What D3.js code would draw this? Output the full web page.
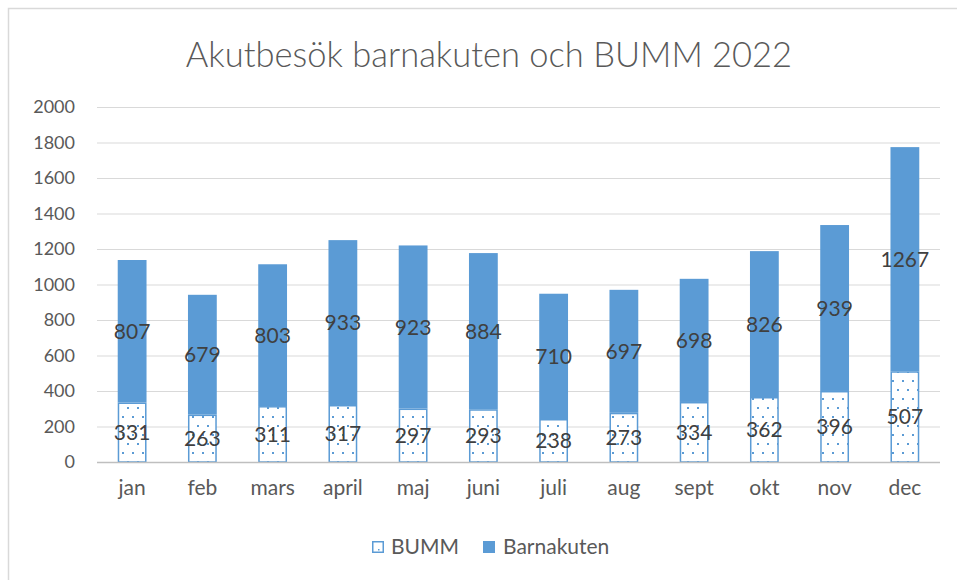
<!DOCTYPE html>
<html>
<head>
<meta charset="utf-8">
<script src="https://cdn.jsdelivr.net/npm/d3@7"></script>
<style>
body{margin:0;background:#fff;}
text{font-family:Lato,"Open Sans",sans-serif;}
</style>
</head>
<body>
<div id="chart"></div>
<script>
var months = ["jan","feb","mars","april","maj","juni","juli","aug","sept","okt","nov","dec"];
var bumm = [331,263,311,317,297,293,238,273,334,362,396,507];
var barnakuten = [807,679,803,933,923,884,710,697,698,826,939,1267];
var yTicks = [0,200,400,600,800,1000,1200,1400,1600,1800,2000];

var W = 957, H = 580;
var margin = {l:97,r:17,t:107,b:118};
var blue = "#5b9bd5", txt = "#595959", lab = "#404040";
var ff = "Lato,'Open Sans',sans-serif";

var svg = d3.select("#chart").append("svg")
	.attr("width",W).attr("height",H);

// dotted fill like excel's pattern
var defs = svg.append("defs");
var pat = defs.append("pattern").attr("id","dots")
	.attr("patternUnits","userSpaceOnUse")
	.attr("width",20).attr("height",18);
pat.append("rect").attr("width",20).attr("height",18).attr("fill","#fff");
[[2,2],[12,2],[7,11],[17,11]].forEach(function(p){
	pat.append("rect").attr("x",p[0]).attr("y",p[1]).attr("width",2).attr("height",2).attr("fill",blue);
});

// chart frame (only left/top visible)
svg.append("path").attr("d","M8.5,"+H+"V8.5H"+W)
	.attr("fill","none").attr("stroke","#d9d9d9").attr("stroke-width",1.5);

svg.append("text").attr("x",489).attr("y",67)
	.attr("text-anchor","middle").attr("font-size",34.5).attr("font-weight",300).attr("fill",txt)
	.text("Akutbesök barnakuten och BUMM 2022");

var X = d3.scaleBand().domain(months).range([margin.l, W-margin.r]).paddingInner(0.59).paddingOuter(0.295);
var Y = d3.scaleLinear().domain([0,2000]).range([H-margin.b, margin.t]);

svg.append("g").selectAll("line").data(yTicks.slice(1)).enter().append("line")
	.attr("x1",margin.l).attr("x2",W-margin.r)
	.attr("y1",function(d){return Y(d)+0.5}).attr("y2",function(d){return Y(d)+0.5})
	.attr("stroke","#d9d9d9").attr("stroke-width",1);

var yAxis = svg.append("g").attr("transform","translate("+margin.l+",0)")
	.call(d3.axisLeft(Y).tickValues(yTicks).tickFormat(d3.format("d")).tickSize(0).tickPadding(22));
yAxis.select(".domain").remove();
yAxis.selectAll("text").attr("font-size",18).attr("fill",txt).attr("font-family",ff);

var data = months.map(function(m,i){return {m:m,b:bumm[i],k:barnakuten[i]}});

var g = svg.append("g");
g.selectAll(".bumm").data(data).enter().append("rect")
	.attr("class","bumm")
	.attr("x",function(d){return X(d.m)+0.75}).attr("width",X.bandwidth()-1.5)
	.attr("y",function(d){return Y(d.b)}).attr("height",function(d){return Y(0)-Y(d.b)})
	.attr("fill","url(#dots)").attr("stroke",blue).attr("stroke-width",1.5);

g.selectAll(".barn").data(data).enter().append("rect")
	.attr("class","barn")
	.attr("x",function(d){return X(d.m)}).attr("width",X.bandwidth())
	.attr("y",function(d){return Y(d.b+d.k)}).attr("height",function(d){return Y(d.b)-Y(d.b+d.k)-0.75})
	.attr("fill",blue);

// x axis line
svg.append("line").attr("x1",margin.l).attr("x2",W-margin.r)
	.attr("y1",Y(0)+0.5).attr("y2",Y(0)+0.5).attr("stroke","#bfbfbf").attr("stroke-width",1.5);

var xAxis = svg.append("g").attr("transform","translate(0,"+Y(0)+")")
	.call(d3.axisBottom(X).tickSize(0).tickPadding(18));
xAxis.select(".domain").remove();
xAxis.selectAll("text").attr("font-size",21).attr("fill",txt).attr("font-family",ff);

// data labels
g.selectAll(".lb").data(data).enter().append("text")
	.attr("x",function(d){return X(d.m)+X.bandwidth()/2})
	.attr("y",function(d){return Y(d.b/2)})
	.attr("dy","0.35em").attr("text-anchor","middle")
	.attr("font-size",21).attr("fill",lab)
	.text(function(d){return d.b});
g.selectAll(".lk").data(data).enter().append("text")
	.attr("x",function(d){return X(d.m)+X.bandwidth()/2})
	.attr("y",function(d){return Y(d.b+d.k/2)})
	.attr("dy","0.35em").attr("text-anchor","middle")
	.attr("font-size",21).attr("fill",lab)
	.text(function(d){return d.k});

// legend
var leg = svg.append("g").attr("transform","translate(372,547)");
leg.append("rect").attr("x",0.75).attr("y",-5.25).attr("width",10.5).attr("height",10.5)
	.attr("fill","#fff").attr("stroke",blue).attr("stroke-width",1.5);
leg.append("rect").attr("x",6).attr("y",2).attr("width",1.5).attr("height",1.5).attr("fill",blue);
leg.append("text").attr("x",19).attr("dy","0.35em").attr("font-size",21).attr("fill",txt).text("BUMM");
leg.append("rect").attr("x",111).attr("y",-6).attr("width",12).attr("height",12).attr("fill",blue);
leg.append("text").attr("x",131).attr("dy","0.35em").attr("font-size",21).attr("fill",txt).text("Barnakuten");
</script>
</body>
</html>
